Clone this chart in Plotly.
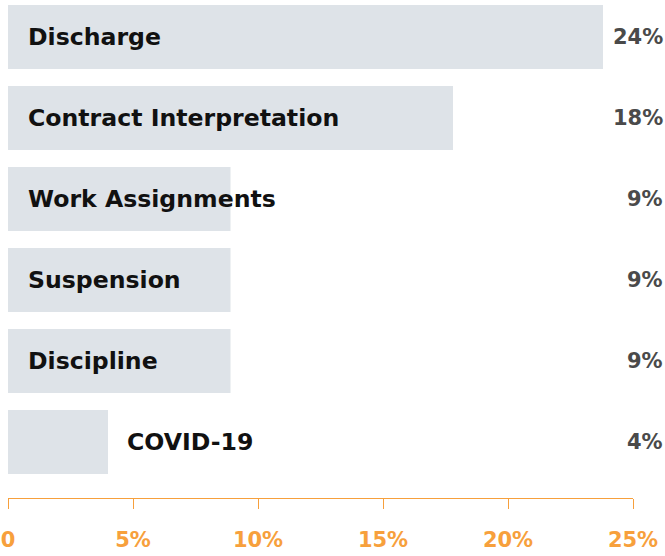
import plotly.graph_objects as go

categories = ["Discharge", "Contract Interpretation", "Work Assignments",
              "Suspension", "Discipline", "COVID-19"]
values = [23.8, 17.8, 8.9, 8.9, 8.9, 4.0]
value_labels = ["24%", "18%", "9%", "9%", "9%", "4%"]
tick_vals = [0, 5, 10, 15, 20, 25]
tick_text = ["0", "5%", "10%", "15%", "20%", "25%"]

ORANGE = "#f7a03c"
BAR = "#dee3e8"
FONT = "DejaVu Sans"

fig = go.Figure()
fig.add_trace(go.Bar(
    x=values, y=categories, orientation="h",
    marker=dict(color=BAR, line=dict(width=0)),
    width=0.79, hoverinfo="skip",
))

annotations = []
for cat, v, lab in zip(categories, values, value_labels):
    inside = v >= 5
    annotations.append(dict(
        x=0 if inside else v, y=cat, xref="x", yref="y",
        text=cat, showarrow=False, xanchor="left", yanchor="middle",
        xshift=18 if inside else 17,
        font=dict(family=FONT, size=23.6, color="#111111", weight="bold"),
    ))
    annotations.append(dict(
        x=1, y=cat, xref="paper", yref="y",
        text=lab, showarrow=False, xanchor="right", yanchor="middle",
        xshift=32,
        font=dict(family=FONT, size=21, color="#4a4a4a", weight="bold"),
    ))

n = len(categories)
fig.update_layout(
    width=665, height=556,
    margin=dict(l=8, r=32, t=0, b=58),
    paper_bgcolor="white", plot_bgcolor="white",
    showlegend=False,
    annotations=annotations,
    xaxis=dict(
        range=[0, 25], tickvals=tick_vals, ticktext=tick_text,
        showgrid=False, zeroline=False,
        showline=True, linecolor=ORANGE, linewidth=1,
        ticks="outside", ticklen=10, tickcolor=ORANGE, tickwidth=1,
        ticklabelstandoff=13,
        tickfont=dict(family=FONT, size=21, color=ORANGE, weight="bold"),
        fixedrange=True,
    ),
    yaxis=dict(
        type="category", categoryorder="array", categoryarray=categories,
        range=[n - 1 + 0.691, -0.457],
        showticklabels=False, showgrid=False, zeroline=False, showline=False,
        fixedrange=True,
    ),
)

fig.write_html("out.html", config={"displayModeBar": False},
               post_script="document.body.style.margin='0';")
